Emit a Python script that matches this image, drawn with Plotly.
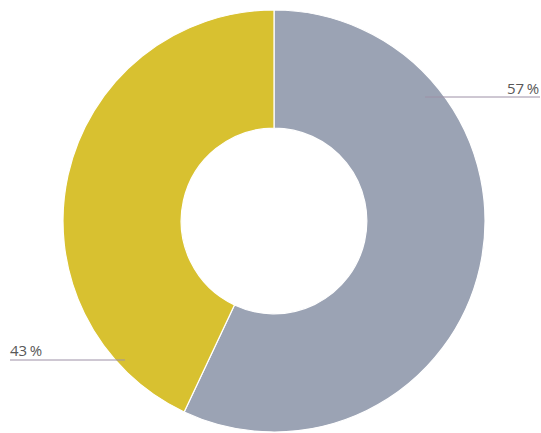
import plotly.graph_objects as go

labels = ["A", "B"]
values = [57, 43]
label_texts = ["57\u2009%", "43\u2009%"]
colors = ["#9ba3b4", "#d8c130"]

W, H = 541, 433


def px(x):
    return x / W


def py(y):
    return 1 - y / H


fig = go.Figure(go.Pie(
    labels=labels, values=values, sort=False, direction="clockwise", rotation=0,
    hole=0.44, textinfo="none", hoverinfo="label+percent",
    marker=dict(colors=colors, line=dict(color="white", width=1.2)),
    domain=dict(x=[px(63), px(485)], y=[py(432), py(10)]),
    showlegend=False,
))

line_col = "#9d90a6"
fig.add_shape(type="line", xref="paper", yref="paper",
              x0=px(425), x1=px(540), y0=py(97), y1=py(97), line=dict(color=line_col, width=1))
fig.add_shape(type="line", xref="paper", yref="paper",
              x0=px(10), x1=px(125), y0=py(360), y1=py(360), line=dict(color=line_col, width=1))
fig.add_annotation(text=label_texts[0], xref="paper", yref="paper", x=px(541), y=py(88),
                   xanchor="right", yanchor="middle", showarrow=False,
                   font=dict(family="Open Sans", size=15, color="#585858"))
fig.add_annotation(text=label_texts[1], xref="paper", yref="paper", x=px(8), y=py(350),
                   xanchor="left", yanchor="middle", showarrow=False,
                   font=dict(family="Open Sans", size=15, color="#585858"))

fig.update_layout(width=W, height=H, margin=dict(l=0, r=0, t=0, b=0),
                  paper_bgcolor="white", plot_bgcolor="white")
fig.write_html("out.html", config={"displayModeBar": False},
               post_script="document.body.style.margin='0';document.body.style.overflow='hidden';")
